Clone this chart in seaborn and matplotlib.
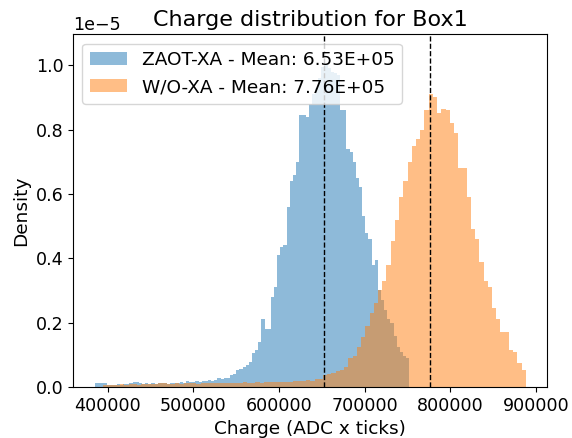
import numpy as np
import pandas as pd
import matplotlib
matplotlib.use("Agg")
import matplotlib.pyplot as plt
import seaborn as sns

# ---- data (density in units of 1e-5) ----
series_names = ["ZAOT-XA", "W/O-XA"]
series_colors = ["#1f77b4", "#ff7f0e"]
means = [6.53e5, 7.76e5]

blue_range = [385000, 752000]
blue_density = [
    0.013, 0.014, 0.012, 0.013,
    0.006, 0.007, 0.006, 0.008, 0.007, 0.009, 0.008,
    0.014, 0.015, 0.016, 0.014,
    0.010, 0.011, 0.009, 0.012, 0.010, 0.011, 0.013, 0.012, 0.010, 0.013, 0.012, 0.014, 0.015, 0.014,
    0.018, 0.016, 0.017,
    0.020, 0.017, 0.019, 0.018, 0.021, 0.019, 0.022,
    0.027, 0.026, 0.029, 0.028,
    0.037, 0.040,
    0.053, 0.055, 0.062, 0.068, 0.078, 0.105, 0.115, 0.14, 0.21, 0.18, 0.18, 0.28, 0.31,
    0.41, 0.435, 0.44, 0.56, 0.64, 0.66, 0.70, 0.845, 0.845, 0.84,
    0.88, 0.91, 0.93, 0.96, 0.995, 1.0, 0.99, 0.98, 0.975, 0.97,
    0.86, 0.86, 0.74, 0.73, 0.70, 0.65, 0.62, 0.53, 0.48, 0.46, 0.38, 0.395,
    0.30, 0.27, 0.24, 0.21, 0.20, 0.16, 0.125, 0.11, 0.095, 0.09,
]

orange_range = [395000, 888000]
orange_density = [
    0.006, 0.007, 0.005, 0.007, 0.008, 0.006, 0.008, 0.009, 0.007, 0.008,
    0.009, 0.010, 0.008, 0.011, 0.012, 0.010, 0.009, 0.011, 0.010, 0.012,
    0.011, 0.012, 0.010, 0.013, 0.012, 0.011, 0.013, 0.012, 0.014, 0.013,
    0.013, 0.014, 0.012, 0.015, 0.014, 0.013, 0.015, 0.014, 0.016, 0.015,
    0.015, 0.016, 0.015, 0.017, 0.016, 0.018,
    0.020, 0.019, 0.021, 0.020, 0.025, 0.026, 0.037, 0.040, 0.043, 0.050, 0.053, 0.062,
    0.09, 0.095, 0.125, 0.155, 0.19, 0.23, 0.26, 0.30, 0.33, 0.38,
    0.455, 0.52, 0.59, 0.64, 0.70, 0.75, 0.77, 0.80, 0.86, 0.91,
    0.90, 0.85, 0.865, 0.86, 0.82, 0.79, 0.68, 0.68, 0.59, 0.49,
    0.46, 0.39, 0.33, 0.31, 0.245, 0.21, 0.17, 0.17, 0.115, 0.11,
    0.075, 0.053,
]

title = "Charge distribution for Box1"
xlabel = "Charge (ADC x ticks)"
ylabel = "Density"

# ---- plotting ----
plt.rcParams["font.family"] = ["DejaVu Sans"]
fig, ax = plt.subplots(figsize=(5.72, 4.38), dpi=100)
fig.subplots_adjust(left=0.128, right=0.957, top=0.9217, bottom=0.1164)

for name, color, rng, dens, mean in zip(
    series_names, series_colors,
    [blue_range, orange_range], [blue_density, orange_density], means
):
    edges = np.linspace(rng[0], rng[1], len(dens) + 1)
    df = pd.DataFrame({
        "charge": 0.5 * (edges[:-1] + edges[1:]),
        "density": np.array(dens) * 1e-5,
    })
    sns.histplot(
        data=df, x="charge", weights="density",
        bins=len(dens), binrange=(rng[0], rng[1]), stat="count",
        color=color, alpha=0.5, linewidth=0, ax=ax,
        label=f"{name} - Mean: {mean:.2E}",
    )

for mean in means:
    ax.axvline(mean, color="k", linestyle="--", linewidth=1)

ax.set_xlim(359850, 913150)
ax.set_ylim(0, 1.096e-5)
ax.set_xticks([400000, 500000, 600000, 700000, 800000, 900000])
ax.set_title(title, fontsize=16)
ax.set_xlabel(xlabel, fontsize=13.3)
ax.set_ylabel(ylabel, fontsize=13.3)
ax.tick_params(labelsize=12.6)
ax.yaxis.get_offset_text().set_fontsize(12.6)
ax.legend(loc="upper left", fontsize=13.3)

fig.savefig("out.png", dpi=100)
